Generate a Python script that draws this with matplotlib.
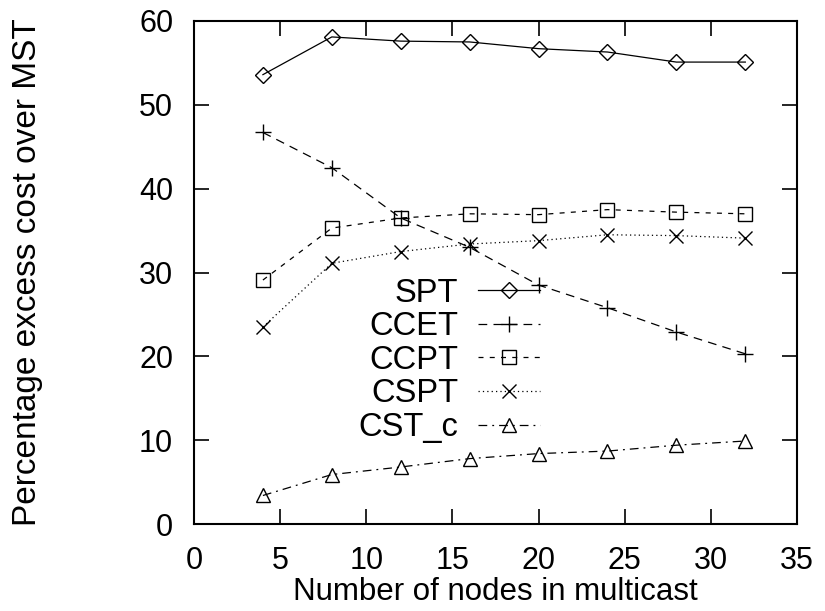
import matplotlib
matplotlib.use('Agg')
import matplotlib.pyplot as plt

plt.rcParams['font.family'] = ['Liberation Sans', 'DejaVu Sans']

# data
nodes = [4, 8, 12, 16, 20, 24, 28, 32]
spt = [53.6, 58.1, 57.6, 57.5, 56.7, 56.3, 55.1, 55.1]
ccet = [46.7, 42.5, 36.5, 33.0, 28.5, 25.8, 22.9, 20.3]
ccpt = [29.1, 35.3, 36.5, 37.0, 36.9, 37.5, 37.2, 37.0]
cspt = [23.5, 31.1, 32.5, 33.4, 33.8, 34.5, 34.4, 34.1]
cst_c = [3.4, 5.9, 6.8, 7.8, 8.4, 8.7, 9.4, 9.9]

fig = plt.figure(figsize=(8.25, 6.11), dpi=100)
ax = fig.add_axes([194/825, 1 - 524/611, 603/825, 503/611])

kw = dict(color='black', linewidth=0.9, markerfacecolor='none',
          markeredgecolor='black', markeredgewidth=1.0)
ax.plot(nodes, spt, linestyle='-', marker='D', markersize=8, label='SPT', **kw)
ax.plot(nodes, ccet, linestyle=(0, (7, 5)), marker='+', markersize=11, label='CCET', **kw)
ax.plot(nodes, ccpt, linestyle=(0, (4, 5)), marker='s', markersize=10, label='CCPT', **kw)
ax.plot(nodes, cspt, linestyle=(0, (1, 2.5)), marker='x', markersize=10, label='CSPT', **kw)
ax.plot(nodes, cst_c, linestyle=(0, (7, 4, 1.5, 4)), marker='^', markersize=10, label='CST_c', **kw)

ax.set_xlim(0, 35)
ax.set_ylim(0, 60)
ax.set_xticks(range(0, 36, 5))
ax.set_yticks(range(0, 61, 10))
ax.tick_params(direction='in', length=11, width=1.2, top=True, right=True,
               labelsize=22, pad=15)
ax.tick_params(axis='x', pad=15.5)
for s in ax.spines.values():
    s.set_linewidth(1.5)

ax.set_xlabel('Number of nodes in multicast', fontsize=22.5)
ax.set_ylabel('Percentage excess cost over MST', fontsize=24)
ax.xaxis.set_label_coords(0.5, -0.106)
ax.yaxis.set_label_coords(-0.25, 0.5)

ax.legend(loc='upper right', bbox_to_anchor=(0.574, 0.49), frameon=False,
          markerfirst=False, fontsize=23.5, handlelength=1.9, handletextpad=0.6,
          labelspacing=0.08, borderpad=0, borderaxespad=0)

fig.savefig('out.png', dpi=100)
